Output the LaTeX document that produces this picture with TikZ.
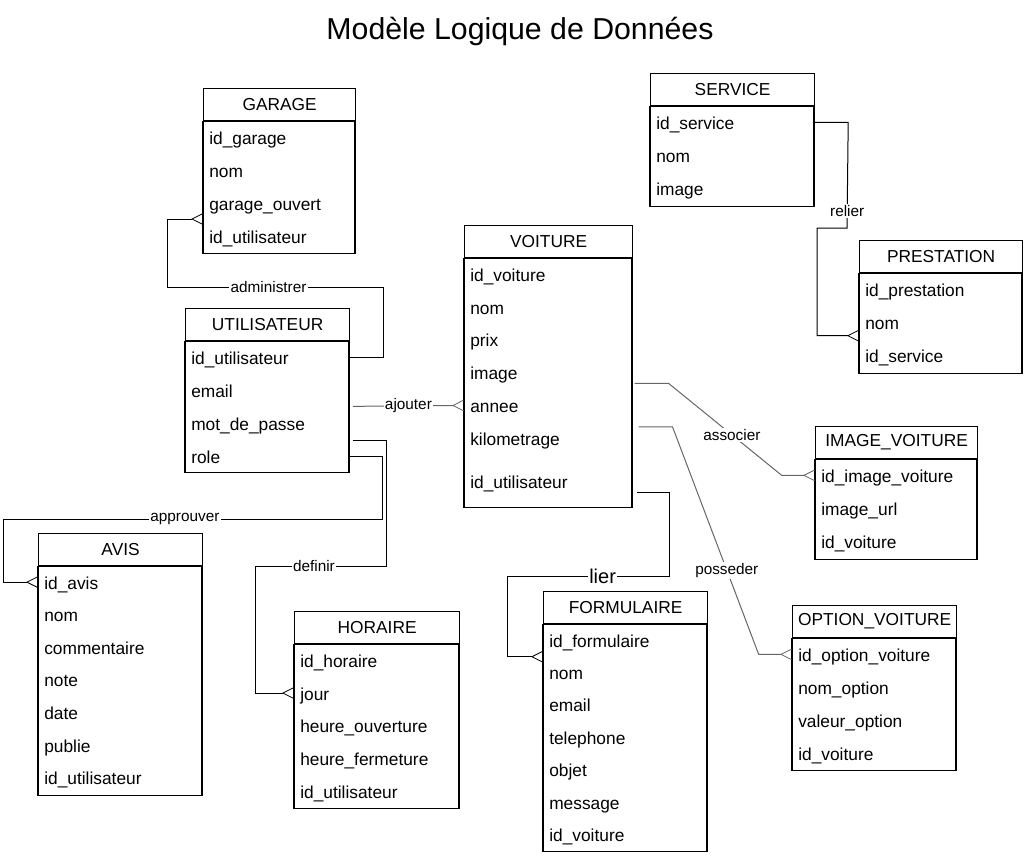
\documentclass[tikz,border=0pt]{standalone}
\usepackage{fontspec}
\setmainfont{Liberation Sans}
\usetikzlibrary{arrows.meta,positioning}

\tikzstyle{entete}    = [draw, line width=0.9pt, anchor=north west, minimum height=24pt, inner sep=0pt, font=\fontsize{13}{15}\selectfont]
\tikzstyle{champ}     = [anchor=west, inner sep=0pt, text height=9.5pt, text depth=3pt, font=\fontsize{13}{15}\selectfont]
\tikzstyle{cadre}     = [line width=0.9pt]
\tikzstyle{lien}      = [line width=0.75pt, -{Straight Barb[reversed,length=8pt,width=8pt,line width=0.6pt]}]
\tikzstyle{liengris}  = [lien, draw=black!60]
\tikzstyle{etiquette} = [fill=white, inner sep=1pt, text=black, font=\fontsize{11.5}{13}\selectfont]

% table: nom, titre, x, y, largeur, hauteur de ligne, hauteur du corps, champs
\newcommand{\entite}[8]{%
  \node[entete, minimum width=#5*0.75pt] (#1) at (#3,#4) {#2};
  \draw[cadre] (#1.south west) rectangle ++(#5,#7);
  \foreach \nomchamp [count=\i] in {#8}
    \node[champ] (#1-\i) at (#3+6,#4+35.5+#6*\i-#6/2) {\nomchamp};
}

\begin{document}
\begin{tikzpicture}[x=0.75pt,y=-0.75pt]
	\useasboundingbox (0,0) rectangle (1030,861);
	\node[font=\fontsize{22.7}{26}\selectfont] (titre) at (520,31) {Modèle Logique de Données};

	\entite{garage}{GARAGE}{203}{88}{152}{33}{132}{id\_garage, nom, garage\_ouvert, id\_utilisateur}
	\entite{utilisateur}{UTILISATEUR}{185}{308}{164}{33}{131}{id\_utilisateur, email, mot\_de\_passe, role}
	\entite{voiture}{VOITURE}{464}{225}{168}{32.8}{249}{id\_voiture, nom, prix, image, annee, kilometrage}
	\node[champ] (voiture-7) at (470,484.5) {id\_utilisateur};
	\entite{service}{SERVICE}{650}{73}{164}{33}{100}{id\_service, nom, image}
	\entite{prestation}{PRESTATION}{859}{240}{163}{33}{100}{id\_prestation, nom, id\_service}
	\entite{imagevoiture}{IMAGE\_VOITURE}{815}{426}{162}{33}{100}{id\_image\_voiture, image\_url, id\_voiture}
	\entite{optionvoiture}{OPTION\_VOITURE}{792}{605}{164}{33}{132}{id\_option\_voiture, nom\_option, valeur\_option, id\_voiture}
	\entite{formulaire}{FORMULAIRE}{543}{591}{164}{32.4}{227}{id\_formulaire, nom, email, telephone, objet, message, id\_voiture}
	\entite{horaire}{HORAIRE}{294}{611}{165}{32.8}{164}{id\_horaire, jour, heure\_ouverture, heure\_fermeture, id\_utilisateur}
	\entite{avis}{AVIS}{38}{533}{164}{32.6}{229}{id\_avis, nom, commentaire, note, date, publie, id\_utilisateur}

	\draw[lien] ([yshift=2pt]utilisateur.east |- utilisateur-1) -| (383,287)
		-- node[etiquette,pos=0.53]{administrer} (167,287) |- ([yshift=15pt]garage.west |- garage-4);
	\draw[liengris] ([xshift=2pt,yshift=-10pt]utilisateur.east |- utilisateur-2)
		-- node[etiquette]{ajouter} ([yshift=2pt]voiture.west |- voiture-5);
	\draw[lien] ([xshift=2pt,yshift=14pt]utilisateur.east |- utilisateur-4) -| (386,566)
		-- node[etiquette,pos=0.55]{definir} (255,566) |- ([yshift=2pt]horaire.west |- horaire-2);
	\draw[lien] ([yshift=2pt]utilisateur.east |- utilisateur-4) -| (382,519)
		-- node[etiquette,pos=0.52]{approuver} (3,519) |- ([yshift=2pt]avis.west |- avis-1);
	\draw[lien] ([xshift=3pt,yshift=-6pt]voiture.east |- voiture-7) -| (669,576)
		-- node[etiquette,pos=0.41,font=\fontsize{15}{17}\selectfont]{lier} (507,576)
		|- ([yshift=-10.5pt]formulaire.west |- formulaire-1);
	\draw[liengris] ([xshift=1pt,yshift=-6pt]voiture.east |- voiture-4) -- ++(34,0)
		-- node[etiquette,pos=0.56]{associer} ([xshift=-25pt,yshift=2pt]imagevoiture.west |- imagevoiture-1)
		-- ([yshift=2pt]imagevoiture.west |- imagevoiture-1);
	\draw[liengris] ([xshift=4pt,yshift=10.5pt]voiture.east |- voiture-6) -- ++(34,0)
		-- node[etiquette,pos=0.63]{posseder} ([xshift=-25pt,yshift=2pt]optionvoiture.west |- optionvoiture-1)
		-- ([yshift=2pt]optionvoiture.west |- optionvoiture-1);
	\draw[lien] ([yshift=2pt]service.east |- service-1) -- ++(33,0)
		-- node[etiquette,pos=0.84]{relier} (847,228)
		-| ([xshift=-31.5pt,yshift=-8pt]prestation.west |- prestation-2)
		-- ([yshift=-8pt]prestation.west |- prestation-2);
\end{tikzpicture}
\end{document}
